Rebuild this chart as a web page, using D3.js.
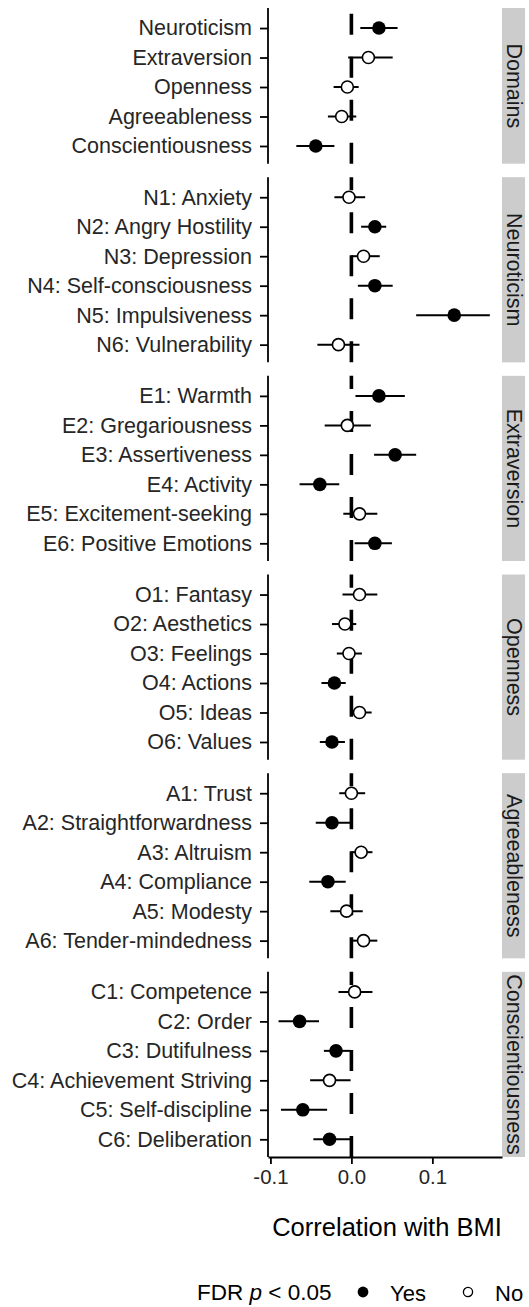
<!DOCTYPE html>
<html>
<head>
<meta charset="utf-8">
<script src="https://cdn.jsdelivr.net/npm/d3@7"></script>
<style>
  body { margin: 0; background: #fff; }
  text { font-family: "Liberation Sans", Arial, sans-serif; }
</style>
</head>
<body>
<div id="chart"></div>
<script>
// facet groups, top to bottom
var groups = ["Domains", "Neuroticism", "Extraversion", "Openness", "Agreeableness", "Conscientiousness"];

var traits = [
  "Neuroticism", "Extraversion", "Openness", "Agreeableness", "Conscientiousness",
  "N1: Anxiety", "N2: Angry Hostility", "N3: Depression", "N4: Self-consciousness", "N5: Impulsiveness", "N6: Vulnerability",
  "E1: Warmth", "E2: Gregariousness", "E3: Assertiveness", "E4: Activity", "E5: Excitement-seeking", "E6: Positive Emotions",
  "O1: Fantasy", "O2: Aesthetics", "O3: Feelings", "O4: Actions", "O5: Ideas", "O6: Values",
  "A1: Trust", "A2: Straightforwardness", "A3: Altruism", "A4: Compliance", "A5: Modesty", "A6: Tender-mindedness",
  "C1: Competence", "C2: Order", "C3: Dutifulness", "C4: Achievement Striving", "C5: Self-discipline", "C6: Deliberation"
];
var traitGroup = [0,0,0,0,0, 1,1,1,1,1,1, 2,2,2,2,2,2, 3,3,3,3,3,3, 4,4,4,4,4,4, 5,5,5,5,5,5];

// correlation with BMI and its interval
var est = [0.034, 0.021, -0.005, -0.012, -0.044,
  -0.003, 0.029, 0.015, 0.029, 0.127, -0.016,
  0.034, -0.005, 0.054, -0.039, 0.010, 0.029,
  0.010, -0.008, -0.003, -0.021, 0.010, -0.024,
  0.000, -0.024, 0.012, -0.029, -0.006, 0.015,
  0.004, -0.064, -0.019, -0.027, -0.060, -0.027];
var lo = [0.011, -0.004, -0.022, -0.029, -0.068,
  -0.021, 0.012, 0.000, 0.008, 0.080, -0.042,
  0.005, -0.033, 0.028, -0.064, -0.010, 0.004,
  -0.011, -0.024, -0.018, -0.037, -0.001, -0.039,
  -0.015, -0.044, 0.000, -0.052, -0.026, 0.000,
  -0.016, -0.090, -0.034, -0.051, -0.087, -0.047];
var hi = [0.057, 0.051, 0.009, 0.006, -0.021,
  0.017, 0.043, 0.035, 0.051, 0.171, 0.010,
  0.066, 0.024, 0.080, -0.015, 0.032, 0.050,
  0.032, 0.006, 0.013, -0.007, 0.025, -0.008,
  0.017, 0.000, 0.026, -0.007, 0.014, 0.032,
  0.026, -0.040, -0.001, -0.001, -0.030, -0.001];
// FDR p < 0.05 ?
var sig = [1,0,0,0,1, 0,1,0,1,1,0, 1,0,1,1,0,1, 0,0,0,1,0,1, 0,1,0,1,0,0, 0,1,1,0,1,1];

var xTicks = [-0.1, 0.0, 0.1];

var W = 529, H = 1307;
var plotLeft = 268, plotRight = 502, plotTop = 8, plotBottom = 1157, gap = 13.5;
var padTop = 0.68, padBottom = 0.6;   // in row units
var font = '"Liberation Sans", Arial, sans-serif';

var svg = d3.select("#chart").append("svg")
  .attr("width", W).attr("height", H);

var x = d3.scaleLinear().domain([-0.103, 0.186]).range([plotLeft, plotRight]);

// free y space: panel height proportional to number of rows
var counts = groups.map(function (g, i) { return traitGroup.filter(function (t) { return t == i; }).length; });
var units = d3.sum(counts, function (c) { return c - 1 + padTop + padBottom; });
var unit = (plotBottom - plotTop - gap * (groups.length - 1)) / units;

var y0 = plotTop;
groups.forEach(function (g, gi) {
  var idx = d3.range(traits.length).filter(function (i) { return traitGroup[i] == gi; });
  var h = (counts[gi] - 1 + padTop + padBottom) * unit;
  var py0 = y0, py1 = y0 + h;
  var y = d3.scalePoint().domain(idx.map(function (i) { return traits[i]; }))
    .range([py0 + padTop * unit, py1 - padBottom * unit]);

  var p = svg.append("g");

  // dashed zero line, dashes start at the bottom
  p.append("line")
    .attr("x1", x(0)).attr("x2", x(0))
    .attr("y1", py1).attr("y2", py0)
    .attr("stroke", "#000").attr("stroke-width", 3.6)
    .attr("stroke-dasharray", "21,22");

  // y axis
  var ax = p.append("g")
    .attr("transform", "translate(" + plotLeft + ",0)")
    .call(d3.axisLeft(y).tickSize(8).tickSizeOuter(0).tickPadding(8));
  ax.select(".domain").attr("d", "M0," + py0 + "V" + py1)
    .attr("stroke", "#000").attr("stroke-width", 1.8);
  ax.selectAll(".tick line").attr("stroke", "#000").attr("stroke-width", 1.8);
  ax.selectAll(".tick text").attr("font-size", "21.5px").attr("font-family", font).attr("fill", "#262626");

  // error bars
  p.selectAll(".err").data(idx).enter().append("line")
    .attr("x1", function (i) { return x(lo[i]); })
    .attr("x2", function (i) { return x(hi[i]); })
    .attr("y1", function (i) { return y(traits[i]); })
    .attr("y2", function (i) { return y(traits[i]); })
    .attr("stroke", "#000").attr("stroke-width", 2);

  // points
  p.selectAll(".pt").data(idx).enter().append("circle")
    .attr("cx", function (i) { return x(est[i]); })
    .attr("cy", function (i) { return y(traits[i]); })
    .attr("r", function (i) { return sig[i] ? 6.8 : 6.0; })
    .attr("fill", function (i) { return sig[i] ? "#000" : "#fff"; })
    .attr("stroke", "#000").attr("stroke-width", function (i) { return sig[i] ? 0 : 1.6; });

  // strip
  p.append("rect").attr("x", plotRight).attr("y", py0)
    .attr("width", 23).attr("height", h).attr("fill", "#cccccc");
  p.append("text")
    .attr("transform", "translate(" + (plotRight + 11.5) + "," + ((py0 + py1) / 2) + ") rotate(90)")
    .attr("text-anchor", "middle").attr("dominant-baseline", "central")
    .attr("font-size", "21.5px").attr("fill", "#1a1a1a")
    .text(g);

  // x axis on the last panel
  if (gi == groups.length - 1) {
    var xa = p.append("g")
      .attr("transform", "translate(0," + py1 + ")")
      .call(d3.axisBottom(x).tickValues(xTicks).tickSize(7).tickSizeOuter(0).tickPadding(6)
        .tickFormat(function (d) { return d.toFixed(1); }));
    xa.select(".domain").attr("stroke", "#000").attr("stroke-width", 1.8);
    xa.selectAll(".tick line").attr("stroke", "#000").attr("stroke-width", 1.8);
    xa.selectAll(".tick text").attr("font-size", "20.4px").attr("font-family", font).attr("fill", "#262626");
  }

  y0 = py1 + gap;
});

// axis title
svg.append("text")
  .attr("x", (plotLeft + plotRight) / 2 + 2).attr("y", 1236)
  .attr("text-anchor", "middle").attr("font-size", "25.5px").attr("fill", "#000")
  .text("Correlation with BMI");

// legend
var leg = svg.append("g").attr("transform", "translate(0,1292)");
var lt = leg.append("text").attr("x", 197).attr("y", 0).attr("dominant-baseline", "central")
  .attr("font-size", "22.5px").attr("fill", "#000");
lt.append("tspan").text("FDR ");
lt.append("tspan").attr("font-style", "italic").text("p");
lt.append("tspan").text(" < 0.05");

var legendKeys = ["Yes", "No"];
var legendX = [363, 468];
legendKeys.forEach(function (k, i) {
  leg.append("circle").attr("cx", legendX[i]).attr("cy", 0)
    .attr("r", i == 0 ? 5.4 : 4.6)
    .attr("fill", i == 0 ? "#000" : "#fff")
    .attr("stroke", "#000").attr("stroke-width", i == 0 ? 0 : 1.3);
  leg.append("text").attr("x", legendX[i] + 27).attr("y", 1)
    .attr("dominant-baseline", "central").attr("font-size", "22px").attr("fill", "#000")
    .text(k);
});
</script>
</body>
</html>
